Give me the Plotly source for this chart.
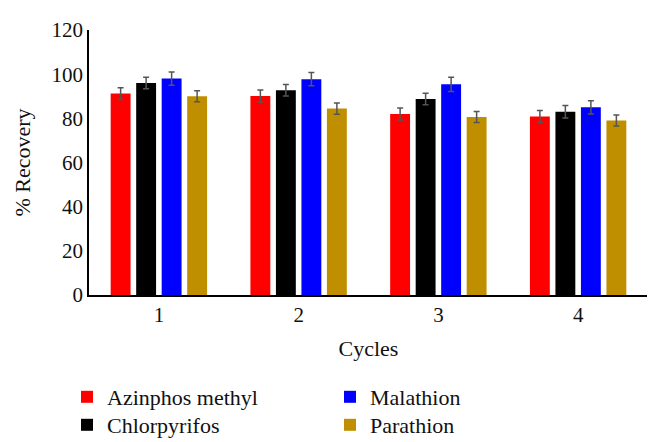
import plotly.graph_objects as go

cycles = ["1", "2", "3", "4"]
series_names = ["Azinphos methyl", "Chlorpyrifos", "Malathion", "Parathion"]
azinphos = [91.2, 90.1, 82.0, 80.8]
chlorpyrifos = [96.0, 92.7, 88.8, 83.0]
malathion = [98.0, 97.7, 95.4, 85.0]
parathion = [90.0, 84.4, 80.6, 79.0]
azinphos_err = [2.7, 2.7, 2.7, 2.7]
chlorpyrifos_err = [2.6, 2.6, 2.6, 2.8]
malathion_err = [3.0, 3.0, 3.2, 3.0]
parathion_err = [2.5, 2.5, 2.5, 2.5]
colors = ["#ff0000", "#000000", "#0000ff", "#bf8f00"]
values = [azinphos, chlorpyrifos, malathion, parathion]
errors = [azinphos_err, chlorpyrifos_err, malathion_err, parathion_err]
legend_ids = ["legend", "legend2", "legend3", "legend4"]

FONT = "Liberation Serif"
W, H = 655, 442
ML, MR, MT, MB = 81, 15, 22, 155
PW, PH = W - ML - MR, H - MT - MB

fig = go.Figure()
for name, vals, errs, col, lg in zip(series_names, values, errors, colors, legend_ids):
    fig.add_trace(go.Bar(
        x=cycles, y=vals, name=name,
        marker=dict(color=col, line=dict(width=0)),
        error_y=dict(type="data", array=errs, color="#555555", thickness=1.5, width=3),
        legend=lg,
    ))

def leg(xpx, ypx):
    return dict(x=(xpx - ML) / PW, y=(H - MB - ypx) / PH, xanchor="left", yanchor="top",
                orientation="v", font=dict(family=FONT, size=22, color="#111111"),
                bgcolor="rgba(0,0,0,0)", borderwidth=0)

fig.update_layout(
    width=W, height=H,
    margin=dict(l=ML, r=MR, t=MT, b=MB, autoexpand=False),
    paper_bgcolor="white", plot_bgcolor="white",
    font=dict(family=FONT, size=21, color="#111111"),
    barmode="group", bargap=0.27, bargroupgap=0.22,
    showlegend=True,
    legend=leg(59, 368),
    legend2=leg(59, 396),
    legend3=leg(322, 368),
    legend4=leg(322, 396),
)
fig.update_xaxes(
    title=dict(text="Cycles", font=dict(family=FONT, size=22)),
    showline=True, linecolor="black", linewidth=1.5,
    showgrid=False, ticks="", tickfont=dict(family=FONT, size=21),
)
fig.update_yaxes(
    title=dict(text="% Recovery", font=dict(family=FONT, size=22)),
    range=[0, 120], dtick=20,
    showline=True, linecolor="black", linewidth=1.5,
    showgrid=False, zeroline=False, ticks="", tickfont=dict(family=FONT, size=21),
)

fig.write_html("out.html")
